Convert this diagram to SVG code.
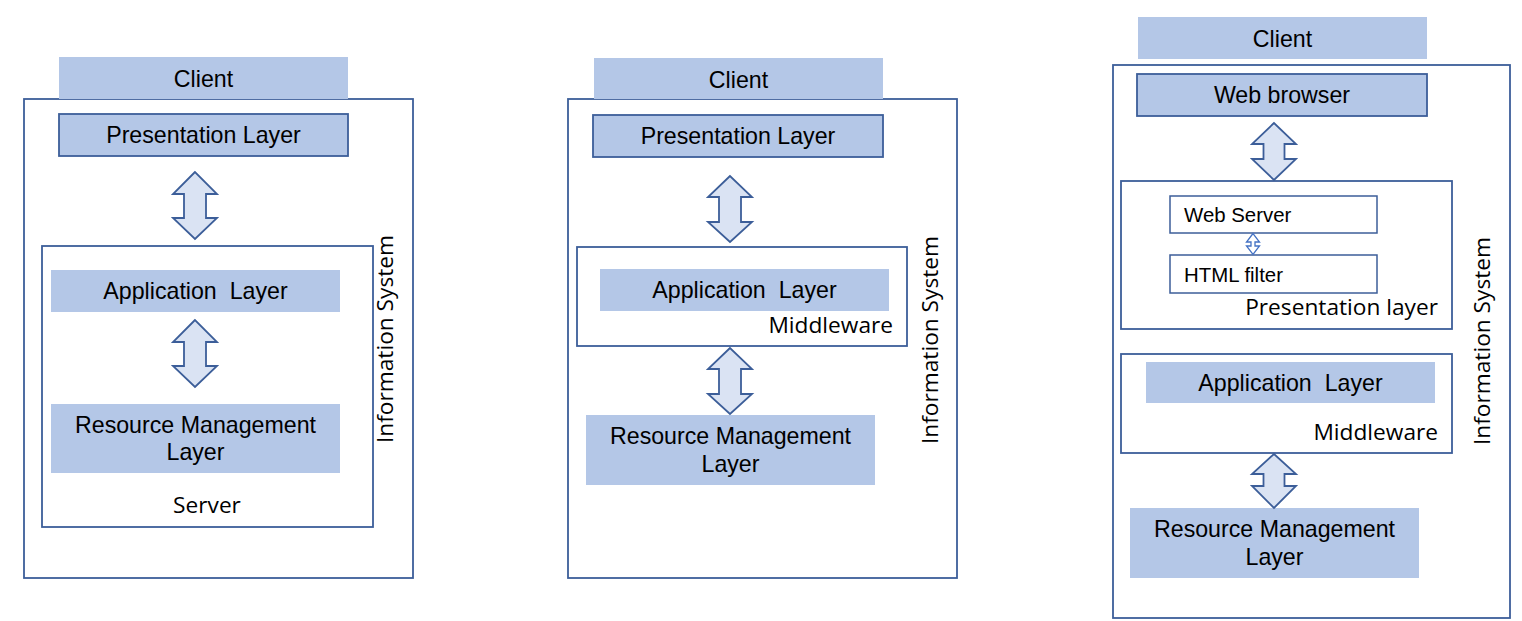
<svg xmlns="http://www.w3.org/2000/svg" width="1522" height="621" viewBox="0 0 1522 621">
<style>
.frame{fill:#fff;stroke:#3C5E99;stroke-width:1.8}
.fill{fill:#B4C7E7;stroke:none}
.fills{fill:#B4C7E7;stroke:#3C5E99;stroke-width:1.8}
.sub{fill:#fff;stroke:#3C5E99;stroke-width:1.5}
.arrow{fill:#DAE3F3;stroke:#3C5E99;stroke-width:1.8;stroke-linejoin:miter}
.small{fill:#fff;stroke:#4472C4;stroke-width:1.3}
.t{font-family:"Liberation Sans",Arial,sans-serif;font-size:23.2px;fill:#000;text-anchor:middle}
.ts{font-family:"Liberation Sans",Arial,sans-serif;font-size:20.4px;fill:#000}
.c{font-family:"Open Sans","Noto Sans",sans-serif;font-size:22.7px;fill:#000}
</style>
<rect width="1522" height="621" fill="#fff"/>

<!-- Diagram 1 -->
<g id="d1-system">
<rect class="frame" x="24" y="99" width="389" height="479"/>
<text class="c" text-anchor="middle" transform="translate(393,339) rotate(-90)">Information System</text>
</g>
<g id="d1-client">
<rect class="fill" x="59" y="57" width="289" height="42"/>
<text class="t" x="203.5" y="86.5">Client</text>
</g>
<g id="d1-presentation">
<rect class="fills" x="59" y="114" width="289" height="42"/>
<text class="t" x="203.5" y="143">Presentation Layer</text>
</g>
<g id="d1-server">
<rect class="frame" x="42" y="246" width="331" height="281"/>
<text class="c" text-anchor="middle" x="207" y="513">Server</text>
</g>
<g id="d1-application">
<rect class="fill" x="51" y="270" width="289" height="42"/>
<text class="t" x="195.5" y="299" xml:space="preserve">Application  Layer</text>
</g>
<g id="d1-resource">
<rect class="fill" x="51" y="404" width="289" height="69"/>
<text class="t" x="195.5" y="432.5">Resource Management</text>
<text class="t" x="195.5" y="460">Layer</text>
</g>

<!-- Diagram 2 -->
<g id="d2-system">
<rect class="frame" x="568" y="99" width="389" height="479"/>
<text class="c" text-anchor="middle" transform="translate(938,340) rotate(-90)">Information System</text>
</g>
<g id="d2-client">
<rect class="fill" x="594" y="58" width="289" height="41"/>
<text class="t" x="738.5" y="87.5">Client</text>
</g>
<g id="d2-presentation">
<rect class="fills" x="593" y="115" width="290" height="42"/>
<text class="t" x="738" y="144">Presentation Layer</text>
</g>
<g id="d2-middleware">
<rect class="frame" x="577" y="247" width="330" height="99"/>
<text class="c" text-anchor="end" x="893" y="333">Middleware</text>
</g>
<g id="d2-application">
<rect class="fill" x="600" y="269" width="289" height="42"/>
<text class="t" x="744.5" y="298" xml:space="preserve">Application  Layer</text>
</g>
<g id="d2-resource">
<rect class="fill" x="586" y="415" width="289" height="70"/>
<text class="t" x="730.5" y="444">Resource Management</text>
<text class="t" x="730.5" y="471.5">Layer</text>
</g>

<!-- Diagram 3 -->
<g id="d3-system">
<rect class="frame" x="1113" y="65" width="397" height="553"/>
<text class="c" text-anchor="middle" transform="translate(1490,341) rotate(-90)">Information System</text>
</g>
<g id="d3-client">
<rect class="fill" x="1138" y="17" width="289" height="42"/>
<text class="t" x="1282.5" y="46.5">Client</text>
</g>
<g id="d3-browser">
<rect class="fills" x="1137" y="74" width="290" height="42"/>
<text class="t" x="1282" y="103">Web browser</text>
</g>
<g id="d3-presentation">
<rect class="frame" x="1121" y="181" width="331" height="148"/>
<text class="c" text-anchor="end" x="1438" y="315">Presentation layer</text>
</g>
<g id="d3-webserver">
<rect class="sub" x="1170" y="196" width="207" height="37"/>
<text class="ts" x="1184" y="222">Web Server</text>
</g>
<g id="d3-htmlfilter">
<rect class="sub" x="1170" y="255" width="207" height="38"/>
<text class="ts" x="1184" y="282">HTML filter</text>
</g>
<g id="d3-middleware">
<rect class="frame" x="1121" y="354" width="331" height="99"/>
<text class="c" text-anchor="end" x="1438" y="440">Middleware</text>
</g>
<g id="d3-application">
<rect class="fill" x="1146" y="362" width="289" height="41"/>
<text class="t" x="1290.5" y="391" xml:space="preserve">Application  Layer</text>
</g>
<g id="d3-resource">
<rect class="fill" x="1130" y="508" width="289" height="70"/>
<text class="t" x="1274.5" y="537">Resource Management</text>
<text class="t" x="1274.5" y="565">Layer</text>
</g>

<!-- Connectors -->
<g id="connectors">
<polygon class="arrow" points="195,172 173,194 184,194 184,218 173,218 195,239 217,218 206,218 206,194 217,194"/>
<polygon class="arrow" points="195,320 173,342 184,342 184,366 173,366 195,387 217,366 206,366 206,342 217,342"/>
<polygon class="arrow" points="730,176 708,197 719,197 719,222 708,222 730,242 752,222 741,222 741,197 752,197"/>
<polygon class="arrow" points="730,348 708,369 719,369 719,394 708,394 730,414 752,394 741,394 741,369 752,369"/>
<polygon class="arrow" points="1274,123 1252,144 1263.5,144 1263.5,159 1252,159 1274,180 1296,159 1284.5,159 1284.5,144 1296,144"/>
<polygon class="arrow" points="1274,454 1252,474 1263.5,474 1263.5,486 1252,486 1274,508 1296,486 1284.5,486 1284.5,474 1296,474"/>
<polygon class="small" points="1253,233.5 1246.5,242 1251,242 1251,246 1246.5,246 1253,254.5 1259.5,246 1255,246 1255,242 1259.5,242"/>
</g>
</svg>
